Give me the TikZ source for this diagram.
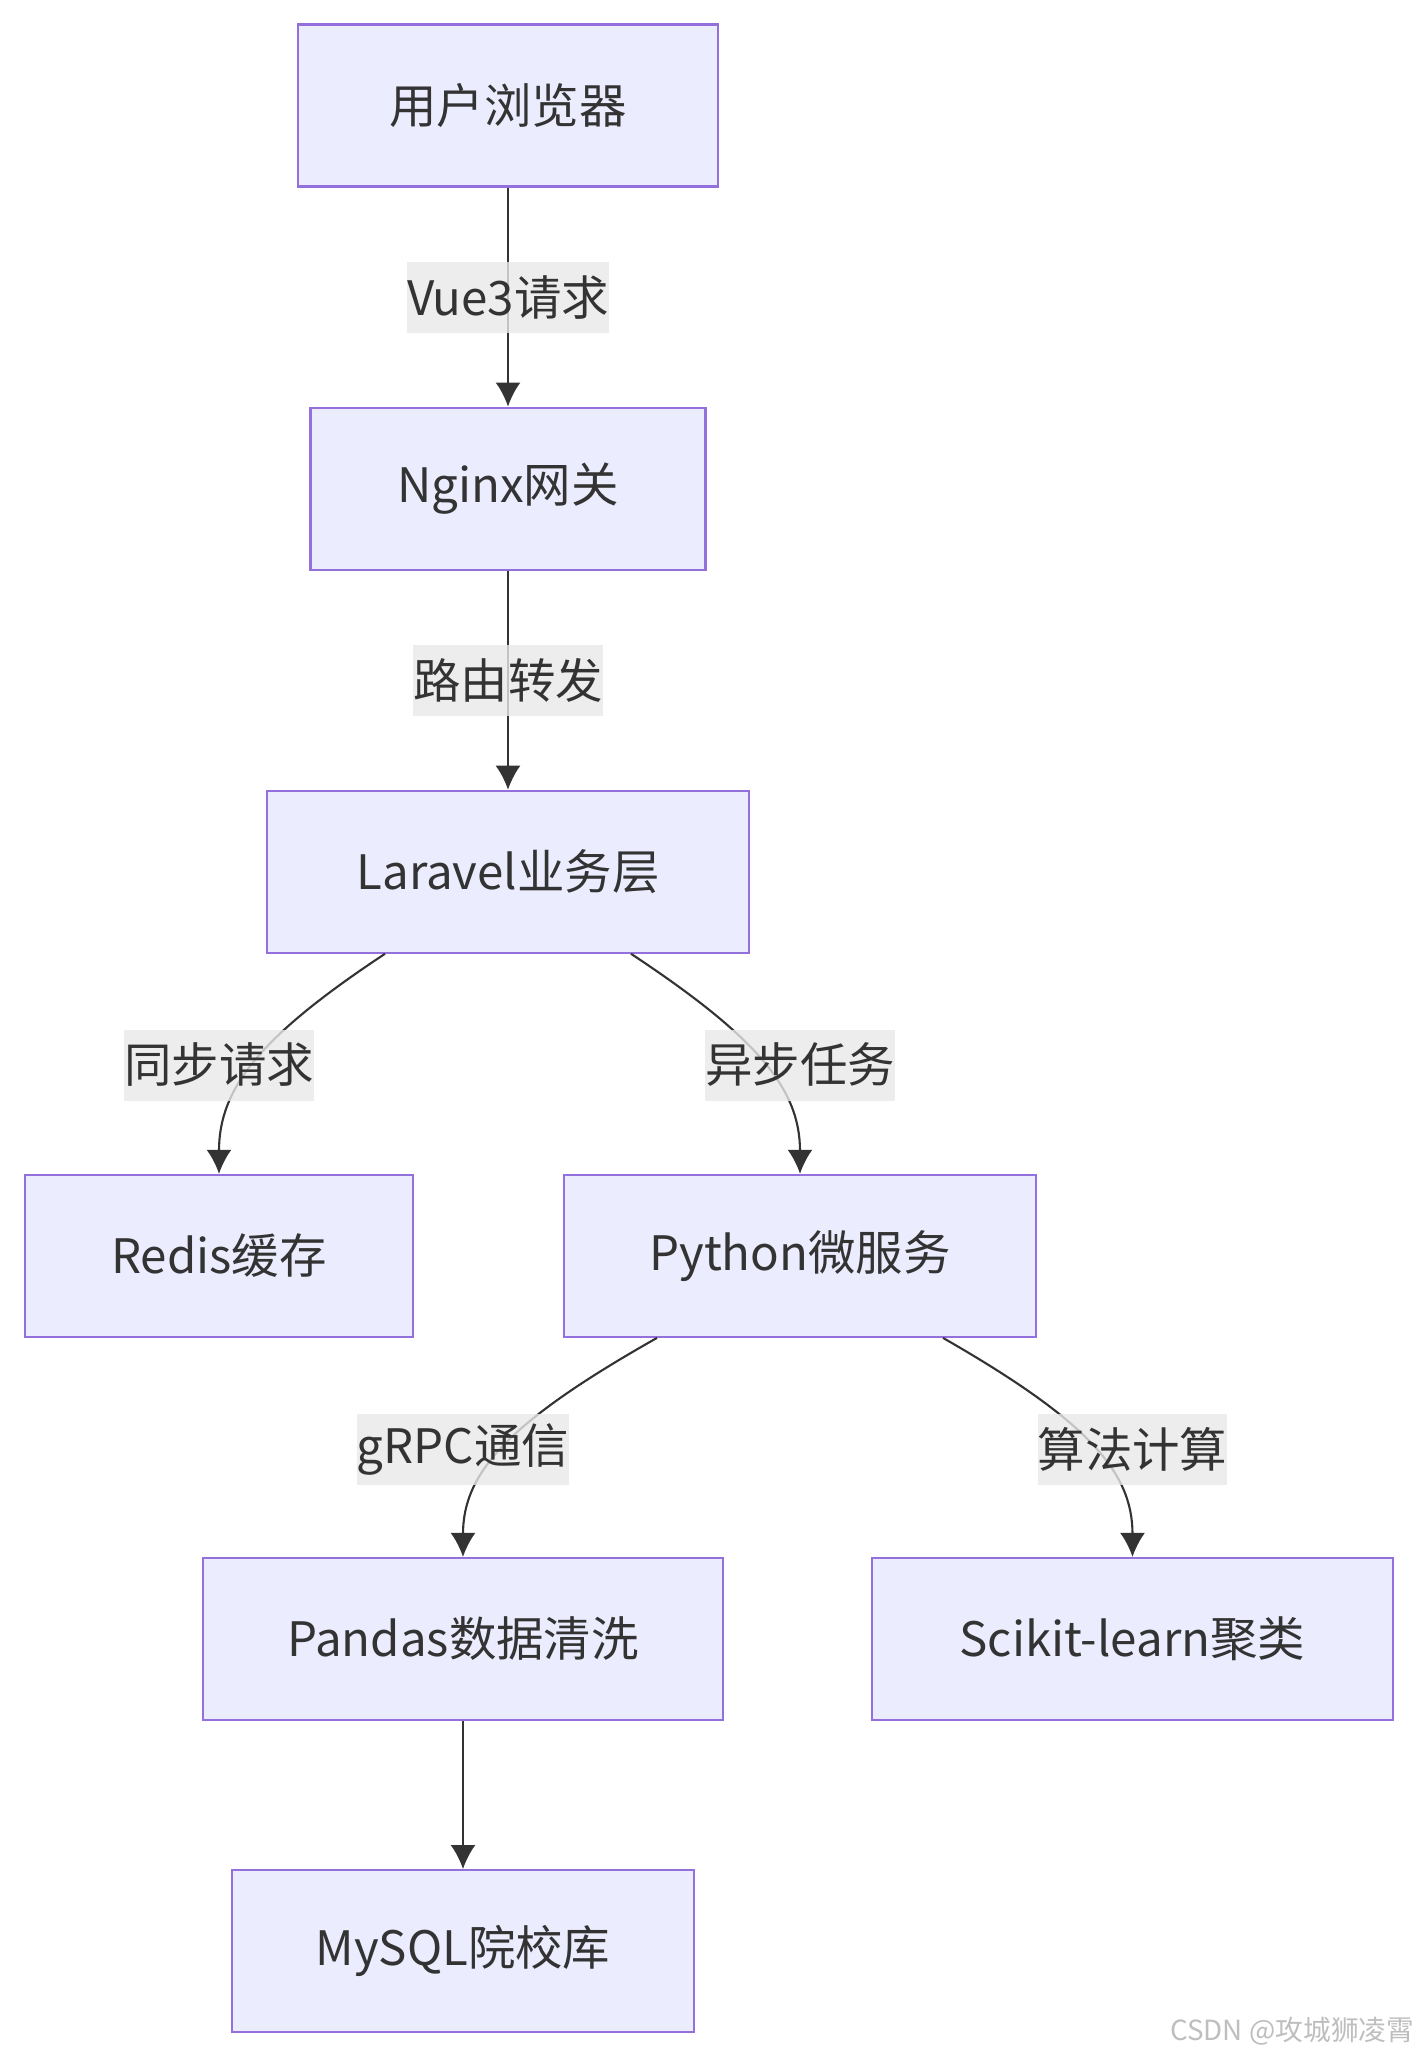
\documentclass[tikz,border=0pt]{standalone}
\usepackage{fontspec}
\setmainfont{Noto Sans CJK SC}
\usepackage{xcolor}
\usepackage{tikz}
\usetikzlibrary{arrows.meta,positioning}
\definecolor{boxfill}{RGB}{236,236,255}
\definecolor{boxline}{RGB}{147,112,219}
\definecolor{ink}{RGB}{51,51,51}
\definecolor{lblbg}{RGB}{232,232,232}
\definecolor{wm}{RGB}{190,190,190}

\begin{document}
\begin{tikzpicture}[
  node distance=2.19cm,
  box/.style={rectangle,draw=boxline,fill=boxfill,line width=0.6pt,minimum height=1.62cm,align=center,text=ink,font=\fontsize{13.5}{16}\selectfont},
  lbl/.style={rectangle,fill=lblbg,fill opacity=0.8,text opacity=1,text=ink,inner xsep=0pt,inner ysep=0pt,minimum height=0.71cm,font=\fontsize{13.5}{16}\selectfont},
  arr/.style={-{Latex[length=2.4mm,width=2.5mm]},draw=ink,line width=0.6pt}
]
  \useasboundingbox (0,0) rectangle (14.17,-20.58);
  \node[box,minimum width=4.20cm] (browser) at (5.08,-1.055) {用户浏览器};
  \node[box,minimum width=3.95cm,below=of browser] (nginx) {Nginx网关};
  \node[box,minimum width=4.82cm,below=of nginx] (laravel) {Laravel业务层};
  \node[box,minimum width=3.88cm,below=2.20cm of laravel,xshift=-2.89cm] (redis) {Redis缓存};
  \node[box,minimum width=4.72cm,below=2.20cm of laravel,xshift=2.92cm] (python) {Python微服务};
  \node[box,minimum width=5.20cm,below=of python,xshift=-3.37cm] (pandas) {Pandas数据清洗};
  \node[box,minimum width=5.21cm,below=of python,xshift=3.325cm] (sklearn) {Scikit-learn聚类};
  \node[box,minimum width=4.62cm,below=1.48cm of pandas] (mysql) {MySQL院校库};

  \draw[arr] (browser) -- node[lbl] (vue) {Vue3请求} (nginx);
  \draw[arr] (nginx) -- node[lbl] (route) {路由转发} (laravel);
  \draw[arr] ([xshift=-1.23cm]laravel.south) .. controls +(-1.24,-0.82) and +(0,0.86) .. (redis.north);
  \draw[arr] ([xshift=1.23cm]laravel.south) .. controls +(1.24,-0.82) and +(0,0.86) .. (python.north);
  \draw[arr] ([xshift=-1.43cm]python.south) .. controls +(-1.45,-0.82) and +(0,0.86) .. (pandas.north);
  \draw[arr] ([xshift=1.43cm]python.south) .. controls +(1.43,-0.82) and +(0,0.86) .. (sklearn.north);
  \draw[arr] (pandas) -- (mysql);
  \node[lbl] (sync) at (redis.north |- 0,-10.65) {同步请求};
  \node[lbl] (async) at (python.north |- 0,-10.65) {异步任务};
  \node[lbl] (grpc) at (pandas.north |- 0,-14.49) {gRPC通信};
  \node[lbl] (algo) at (sklearn.north |- 0,-14.49) {算法计算};

  \node[anchor=east,inner sep=0pt,text=wm,font=\fontsize{7.9}{10}\selectfont] (mark) at (14.15,-20.31) {CSDN @攻城狮凌霄};
\end{tikzpicture}
\end{document}
